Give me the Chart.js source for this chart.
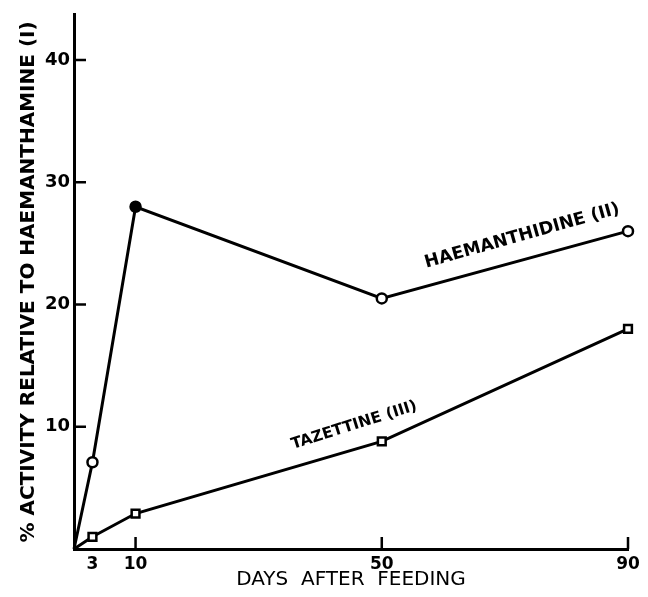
<!DOCTYPE html>
<html>
<head>
<meta charset="utf-8">
<script src="https://cdn.jsdelivr.net/npm/chart.js@4"></script>
<style>
  html, body { margin: 0; padding: 0; background: #fff; }
  #wrap { width: 648px; height: 597px; }
</style>
</head>
<body>
<div id="wrap"><canvas id="chart"></canvas></div>
<script>
const days = [0, 3, 10, 50, 90];
const haemanthidine = [0, 7.1, 28, 20.5, 26];
const tazettine = [0, 1, 2.9, 8.8, 18];
const xTickLabels = [3, 10, 50, 90];
const xTickMarks = [10, 50, 90];
const yTickValues = [10, 20, 30, 40];

const FONT = 'DejaVu Sans';

// inward tick marks + white background + curve labels
const paperPlugin = {
  id: 'paperPlugin',
  beforeDraw(chart) {
    const {ctx} = chart;
    ctx.save();
    ctx.fillStyle = '#fff';
    ctx.fillRect(0, 0, chart.width, chart.height);
    ctx.restore();
  },
  afterDraw(chart) {
    const {ctx, chartArea, scales} = chart;
    ctx.save();
    ctx.strokeStyle = '#000';
    ctx.lineWidth = 2.5;
    ctx.beginPath();
    yTickValues.forEach(v => {
      const y = scales.y.getPixelForValue(v);
      ctx.moveTo(chartArea.left, y);
      ctx.lineTo(chartArea.left + 12, y);
    });
    xTickMarks.forEach(v => {
      const x = scales.x.getPixelForValue(v);
      ctx.moveTo(x, chartArea.bottom);
      ctx.lineTo(x, chartArea.bottom - 12);
    });
    ctx.stroke();

    const label = (text, xv, yv, angle, size) => {
      ctx.save();
      ctx.translate(scales.x.getPixelForValue(xv), scales.y.getPixelForValue(yv));
      ctx.rotate(angle * Math.PI / 180);
      ctx.font = `bold ${size}px "${FONT}"`;
      ctx.fillStyle = '#000';
      ctx.textAlign = 'center';
      ctx.textBaseline = 'middle';
      ctx.fillText(text, 0, 0);
      ctx.restore();
    };
    label('HAEMANTHIDINE (II)', 72.8, 25.6, -15.7, 17.5);
    label('TAZETTINE (III)', 45.5, 10.1, -17.5, 15.5);
    ctx.restore();
  }
};

const toPoints = vals => days.map((d, i) => ({x: d, y: vals[i]}));

new Chart(document.getElementById('chart'), {
  type: 'line',
  data: {
    datasets: [
      {
        label: 'Haemanthidine',
        data: toPoints(haemanthidine),
        clip: false,
        borderColor: '#000',
        borderWidth: 3,
        tension: 0,
        pointStyle: 'circle',
        pointRadius: c => (c.raw && c.raw.x === 0 ? 0 : 5),
        pointBorderWidth: 2.5,
        pointBorderColor: '#000',
        pointBackgroundColor: c => (c.raw && c.raw.x === 10 ? '#000' : '#fff')
      },
      {
        label: 'Tazettine',
        data: toPoints(tazettine),
        clip: false,
        borderColor: '#000',
        borderWidth: 3,
        tension: 0,
        pointStyle: 'rect',
        pointRadius: c => (c.raw && c.raw.x === 0 ? 0 : 5.5),
        pointBorderWidth: 2.5,
        pointBorderColor: '#000',
        pointBackgroundColor: '#fff'
      }
    ]
  },
  options: {
    responsive: true,
    maintainAspectRatio: false,
    animation: false,
    layout: { padding: { top: 10, right: 20, left: 0, bottom: 0 } },
    plugins: { legend: { display: false }, tooltip: { enabled: false } },
    scales: {
      x: {
        type: 'linear',
        min: 0,
        max: 90,
        afterFit: s => { s.height = 48; },
        afterBuildTicks: s => { s.ticks = xTickLabels.map(v => ({value: v})); },
        grid: { display: false, drawTicks: false },
        border: { display: true, color: '#000', width: 3 },
        ticks: {
          color: '#000',
          padding: 5,
          autoSkip: false,
          maxRotation: 0,
          font: { family: FONT, size: 17, weight: 'bold' }
        },
        title: {
          display: true,
          text: 'DAYS  AFTER  FEEDING',
          color: '#000',
          padding: { top: 0, bottom: 7 },
          font: { family: FONT, size: 20, lineHeight: 1 }
        }
      },
      y: {
        min: 0,
        max: 43.7,
        afterFit: s => { s.width = 74; },
        afterBuildTicks: s => { s.ticks = yTickValues.map(v => ({value: v})); },
        grid: { display: false, drawTicks: false },
        border: { display: true, color: '#000', width: 3 },
        ticks: {
          color: '#000',
          padding: 4,
          font: { family: FONT, size: 18, weight: 'bold' }
        },
        title: {
          display: true,
          text: '% ACTIVITY RELATIVE TO HAEMANTHAMINE (I)',
          color: '#000',
          padding: { top: 19, bottom: 0 },
          font: { family: FONT, size: 20, weight: 'bold', lineHeight: 1 }
        }
      }
    }
  },
  plugins: [paperPlugin]
});
</script>
</body>
</html>
